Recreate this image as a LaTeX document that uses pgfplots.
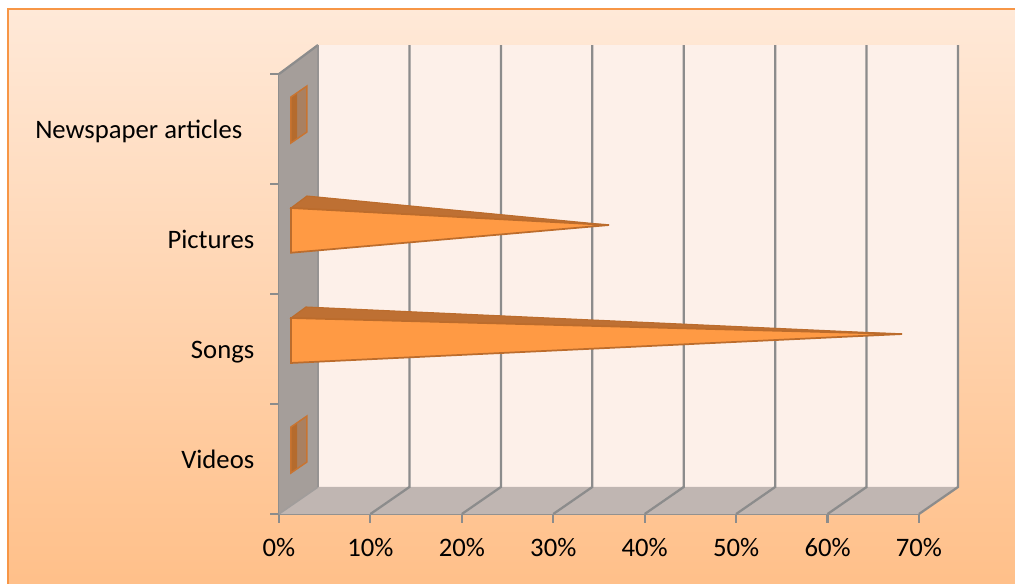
\documentclass[border=0pt]{standalone}
\usepackage{fontspec}
\setmainfont{Carlito}
\usepackage{pgfplots}
\pgfplotsset{compat=1.18}

\definecolor{frameline}{HTML}{F79646}
\definecolor{paneltop}{HTML}{FFE9D8}
\definecolor{panelbottom}{HTML}{FFBF88}
\definecolor{backwall}{HTML}{FDF0E9}
\definecolor{sidewall}{HTML}{A59E9A}
\definecolor{floorwall}{HTML}{C0B6B2}
\definecolor{edgegray}{HTML}{8C8C8C}
\definecolor{barfront}{HTML}{FF9A44}
\definecolor{bartop}{HTML}{BE7033}
\definecolor{baredge}{HTML}{BC6C2C}
\definecolor{stubdark}{HTML}{B56B2D}
\definecolor{stublight}{HTML}{A98061}

\begin{document}
\begin{tikzpicture}
\useasboundingbox (-209.25pt,-51.75pt) rectangle (552pt,385.5pt);
\fill[white] (-209.25pt,-51.75pt) rectangle (552pt,385.5pt);
\clip (-209.25pt,-51.75pt) rectangle (552pt,385.5pt);
\shade[top color=paneltop,bottom color=panelbottom,draw=frameline,line width=2pt]
  (-203.25pt,-60pt) rectangle (560pt,378.75pt);
\begin{axis}[
  x=6.857pt, y=82.5pt,
  xmin=0, xmax=70, ymin=0, ymax=4,
  clip=false,
  axis x line*=bottom, axis y line*=left,
  axis line style={edgegray,line width=2.2pt},
  xtick={0,10,...,70},
  xticklabel={\pgfmathprintnumber{\tick}\%},
  xticklabel style={/pgf/number format/assume math mode=true,font=\fontsize{20pt}{24pt}\selectfont,yshift=-8.5pt},
  ytick={0,1,2,3,4},
  yticklabels={},
  extra y ticks={0.5,1.5,2.5,3.5},
  extra y tick labels={Videos,Songs,Pictures,Newspaper articles\hspace*{9pt}},
  extra y tick style={tick style={draw=none},
    yticklabel style={font=\fontsize{20pt}{24pt}\selectfont,anchor=east,text height=14pt,text depth=4pt,xshift=-8.5pt,yshift=-1.75pt}},
  tick align=outside,
  major tick length=6.5pt,
  tick style={edgegray,line width=1.6pt},
  unbounded coords=jump,
]
% walls of the box
\addplot[fill=backwall,draw=none] coordinates {(4.27,0.2455) (74.27,0.2455) (74.27,4.2636) (4.27,4.2636)} --cycle;
\addplot[fill=sidewall,draw=none] coordinates {(0,0) (4.27,0.2455) (4.27,4.2636) (0,4)} --cycle;
\addplot[fill=floorwall,draw=none] coordinates {(0,0) (70,0) (74.27,0.2455) (4.27,0.2455)} --cycle;

% gridlines running over the floor and up the back wall
\addplot[edgegray,line width=1.7pt] coordinates {
  (10,0) (14.27,0.2455) (14.27,4.2636) (nan,nan)
  (20,0) (24.27,0.2455) (24.27,4.2636) (nan,nan)
  (30,0) (34.27,0.2455) (34.27,4.2636) (nan,nan)
  (40,0) (44.27,0.2455) (44.27,4.2636) (nan,nan)
  (50,0) (54.27,0.2455) (54.27,4.2636) (nan,nan)
  (60,0) (64.27,0.2455) (64.27,4.2636) (nan,nan)
  (70,0) (74.27,0.2455) (74.27,4.2636)
};
\addplot[edgegray,line width=1.7pt] coordinates {(0,4) (4.27,4.2636)};
\addplot[edgegray!60!floorwall,line width=1.2pt] coordinates {(0,0) (4.27,0.2455)};
\addplot[edgegray!60!sidewall,line width=1.2pt] coordinates {(4.27,0.2455) (4.27,4.2636)};

% Pictures, 34%: tip sits at mid-depth of the box
\addplot[fill=bartop,draw=baredge,line width=0.8pt] coordinates {(1.31,2.782) (3.06,2.891) (36.09,2.627)} --cycle;
\addplot[fill=barfront,draw=baredge,line width=1.3pt] coordinates {(1.31,2.782) (36.09,2.627) (1.31,2.375)} --cycle;

% Songs, 66%
\addplot[fill=bartop,draw=baredge,line width=0.8pt] coordinates {(1.31,1.782) (2.95,1.882) (68.14,1.636)} --cycle;
\addplot[fill=barfront,draw=baredge,line width=1.3pt] coordinates {(1.31,1.782) (68.14,1.636) (1.31,1.373)} --cycle;

% Newspaper articles, 0%
\addplot[fill=stublight,draw=none] coordinates {(1.97,3.827) (3.06,3.891) (3.06,3.473) (1.97,3.409)} --cycle;
\addplot[fill=stubdark,draw=none] coordinates {(1.31,3.791) (1.97,3.827) (1.97,3.409) (1.31,3.373)} --cycle;
\addplot[draw=baredge!80!frameline,line width=1.1pt] coordinates {(1.31,3.791) (3.06,3.891) (3.06,3.473) (1.31,3.373)} --cycle;

% Videos, 0%
\addplot[fill=stublight,draw=none] coordinates {(1.97,0.827) (3.06,0.891) (3.06,0.473) (1.97,0.409)} --cycle;
\addplot[fill=stubdark,draw=none] coordinates {(1.31,0.791) (1.97,0.827) (1.97,0.409) (1.31,0.373)} --cycle;
\addplot[draw=baredge!80!frameline,line width=1.1pt] coordinates {(1.31,0.791) (3.06,0.891) (3.06,0.473) (1.31,0.373)} --cycle;
\end{axis}
\end{tikzpicture}
\end{document}
